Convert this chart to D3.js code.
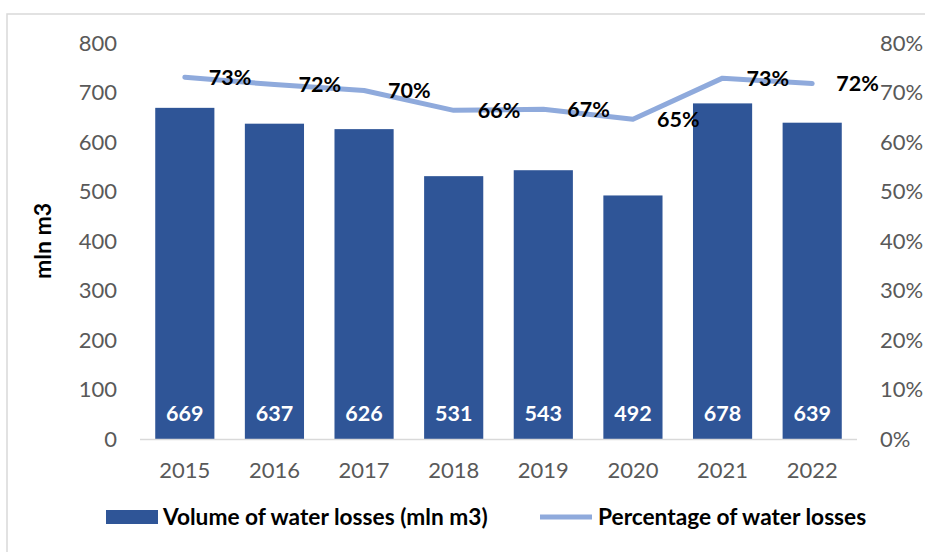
<!DOCTYPE html>
<html><head><meta charset="utf-8">
<script src="https://cdn.jsdelivr.net/npm/d3@7"></script>
<style>body{margin:0;background:#fff;} svg{display:block;font-family:Lato, "Open Sans", sans-serif;}</style>
</head><body>
<svg id="c" width="925" height="552"></svg>
<script>
const years = ["2015","2016","2017","2018","2019","2020","2021","2022"];
const volume = [669, 637, 626, 531, 543, 492, 678, 639];
const percent = [73.1, 71.6, 70.4, 66.4, 66.6, 64.6, 72.9, 71.8];
const percentLabels = ["73%","72%","70%","66%","67%","65%","73%","72%"];
const leftTicks = [0,100,200,300,400,500,600,700,800];
const rightTicks = [0,10,20,30,40,50,60,70,80];

const svg = d3.select("#c");
const W = 925, H = 552;
// chart border
svg.append("rect").attr("x",7).attr("y",14).attr("width",W).attr("height",H)
  .attr("fill","none").attr("stroke","#d9d9d9").attr("stroke-width",1.5);

const x0 = 140, x1 = 857, yTop = 43, yBot = 439;
const x = d3.scaleBand().domain(years).range([x0, x1]).paddingInner(0.34).paddingOuter(0.17);
const yL = d3.scaleLinear().domain([0,800]).range([yBot, yTop]);
const yR = d3.scaleLinear().domain([0,80]).range([yBot, yTop]);

// bars
svg.append("g").selectAll("rect").data(volume).join("rect")
  .attr("x",(d,i)=>x(years[i])).attr("width",x.bandwidth())
  .attr("y",d=>yL(d)).attr("height",d=>yBot-yL(d)).attr("fill","#2f5597");

// x axis line
svg.append("line").attr("x1",x0).attr("x2",x1).attr("y1",yBot+0.5).attr("y2",yBot+0.5)
  .attr("stroke","#d9d9d9").attr("stroke-width",1.5);

// left ticks
const axL = d3.axisLeft(yL).tickValues(leftTicks).tickSize(0).tickPadding(0);
const gL = svg.append("g").attr("transform",`translate(117,0)`).call(axL);
gL.select(".domain").remove();
gL.selectAll("text").attr("font-size",22).attr("fill","#595959").attr("font-family","Lato");

const axR = d3.axisRight(yR).tickValues(rightTicks).tickSize(0).tickPadding(0).tickFormat(d=>d+"%");
const gR = svg.append("g").attr("transform",`translate(880,0)`).call(axR);
gR.select(".domain").remove();
gR.selectAll("text").attr("font-size",22).attr("fill","#595959").attr("font-family","Lato");

const axB = d3.axisBottom(x).tickSize(0).tickPadding(0);
const gB = svg.append("g").attr("transform",`translate(0,470)`).call(axB);
gB.select(".domain").remove();
gB.selectAll("text").attr("font-size",22).attr("fill","#595959").attr("font-family","Lato").attr("dy","0.35em");

// bar labels
svg.append("g").selectAll("text").data(volume).join("text")
  .attr("x",(d,i)=>x(years[i])+x.bandwidth()/2).attr("y",413).attr("dy","0.35em")
  .attr("text-anchor","middle").attr("font-size",21.5).attr("font-weight","bold").attr("fill","#fff")
  .text(d=>d);

// line
const cx = (i)=>x(years[i])+x.bandwidth()/2;
const line = d3.line().x((d,i)=>cx(i)).y(d=>yR(d));
svg.append("path").datum(percent).attr("d",line).attr("fill","none")
  .attr("stroke","#8faadc").attr("stroke-width",5).attr("stroke-linecap","round").attr("stroke-linejoin","round");

svg.append("g").selectAll("text").data(percent).join("text")
  .attr("x",(d,i)=>cx(i)+24).attr("y",d=>yR(d)).attr("dy","0.35em")
  .attr("font-size",21.5).attr("font-weight","bold").attr("fill","#000")
  .text((d,i)=>percentLabels[i]);

// y title
svg.append("text").attr("transform","translate(43,241) rotate(-90)").attr("text-anchor","middle")
  .attr("dy","0.35em").attr("font-size",23).attr("font-weight","bold").attr("fill","#000").text("mln m3");

// legend
svg.append("rect").attr("x",106).attr("y",510).attr("width",52).attr("height",14).attr("fill","#2f5597");
svg.append("text").attr("x",163).attr("y",517).attr("dy","0.35em").attr("font-size",22.7).attr("font-weight","bold")
  .attr("fill","#000").text("Volume of water losses (mln m3)");
svg.append("line").attr("x1",540).attr("x2",592).attr("y1",517).attr("y2",517)
  .attr("stroke","#8faadc").attr("stroke-width",5);
svg.append("text").attr("x",598).attr("y",517).attr("dy","0.35em").attr("font-size",22.7).attr("font-weight","bold")
  .attr("fill","#000").text("Percentage of water losses");
</script>
</body></html>
